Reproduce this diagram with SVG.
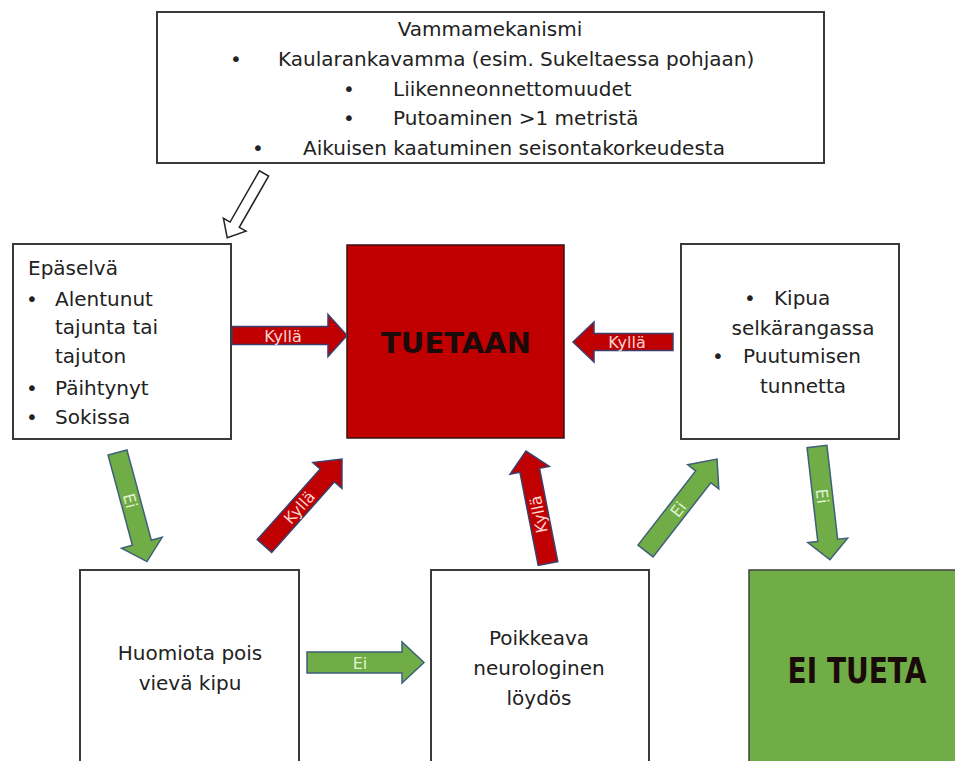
<svg xmlns="http://www.w3.org/2000/svg" width="955" height="761" viewBox="0 0 955 761">
<style>
.box{fill:#fff;stroke:#3a3a3a;stroke-width:2}
.t{font-family:"DejaVu Sans",sans-serif;font-size:20px;fill:#222}
.c{text-anchor:middle}
.red{fill:#C00000;stroke:#3b3f6e;stroke-width:1.5}
.grn{fill:#70AD47;stroke:#3f5f7a;stroke-width:1.5}
.hol{fill:#fff;stroke:#222;stroke-width:1.5}
.lk{font-family:"DejaVu Sans",sans-serif;font-size:16px;fill:#fbd3d3;text-anchor:middle}
.le{font-family:"DejaVu Sans",sans-serif;font-size:16px;fill:#e0f3d3;text-anchor:middle}
.big{font-family:"DejaVu Sans",sans-serif;font-weight:bold;fill:#1a0a0a;text-anchor:middle}
</style>
<rect width="955" height="761" fill="#fff"/>

<g id="vammamekanismi">
<rect class="box" x="157" y="12" width="667" height="151"/>
<text class="t c" x="490" y="36">Vammamekanismi</text>
<text class="t c" x="236" y="66">•</text><text class="t" x="278" y="66">Kaularankavamma (esim. Sukeltaessa pohjaan)</text>
<text class="t c" x="349" y="96">•</text><text class="t" x="393" y="96">Liikenneonnettomuudet</text>
<text class="t c" x="349" y="125">•</text><text class="t" x="393" y="125">Putoaminen &gt;1 metristä</text>
<text class="t c" x="258" y="155">•</text><text class="t" x="303" y="155">Aikuisen kaatuminen seisontakorkeudesta</text>
</g>

<g id="epaselva">
<rect class="box" x="13" y="244" width="218" height="195"/>
<text class="t" x="28" y="275">Epäselvä</text>
<text class="t c" x="32" y="306">•</text><text class="t" x="55" y="306">Alentunut</text>
<text class="t" x="55" y="334">tajunta tai</text>
<text class="t" x="55" y="363">tajuton</text>
<text class="t c" x="32" y="395">•</text><text class="t" x="55" y="395">Päihtynyt</text>
<text class="t c" x="32" y="424">•</text><text class="t" x="55" y="424">Sokissa</text>
</g>

<g id="tuetaan">
<rect x="347" y="245" width="217" height="193" fill="#C00000" stroke="#3a1010" stroke-width="1.5"/>
<text class="big" x="456" y="353" font-size="29">TUETAAN</text>
</g>

<g id="kipua">
<rect class="box" x="681" y="244" width="218" height="195"/>
<text class="t c" x="750" y="305">•</text><text class="t" x="774" y="305">Kipua</text>
<text class="t c" x="803" y="335">selkärangassa</text>
<text class="t c" x="718" y="363">•</text><text class="t" x="743" y="363">Puutumisen</text>
<text class="t c" x="803" y="393">tunnetta</text>
</g>

<g id="huomiota">
<rect class="box" x="80" y="570" width="219" height="200"/>
<text class="t c" x="190" y="660">Huomiota pois</text>
<text class="t c" x="190" y="690">vievä kipu</text>
</g>

<g id="poikkeava">
<rect class="box" x="431" y="570" width="218" height="200"/>
<text class="t c" x="539" y="645">Poikkeava</text>
<text class="t c" x="539" y="675">neurologinen</text>
<text class="t c" x="539" y="705">löydös</text>
</g>

<g id="ei-tueta">
<rect x="749" y="570" width="215" height="200" fill="#70AD47" stroke="#3f3f3f" stroke-width="1.5"/>
<text class="big" transform="translate(857,683) scale(0.8,1)" font-size="35">EI TUETA</text>
</g>

<g id="connectors">
<polygon class="hol" transform="translate(264,173.5) rotate(119.8)" points="0,-5.3 59,-5.3 59,-13 74,0 59,13 59,5.3 0,5.3"/>

<g transform="translate(232,335.5)">
<polygon class="red" points="0,-9 96,-9 96,-21 115,0 96,21 96,9 0,9"/>
<text class="lk" x="51" y="6">Kyllä</text>
</g>

<polygon class="red" transform="translate(673,342) rotate(180)" points="0,-8.5 79,-8.5 79,-20 100,0 79,20 79,8.5 0,8.5"/>
<text class="lk" x="627" y="348">Kyllä</text>

<g transform="translate(117.5,452.5) rotate(74.9)">
<polygon class="grn" points="0,-9.8 93.5,-9.8 93.5,-21 113,0 93.5,21 93.5,9.8 0,9.8"/>
<text class="le" x="50" y="6">Ei</text>
</g>

<g transform="translate(264.5,546) rotate(-48.3)">
<polygon class="red" points="0,-9.6 94.5,-9.6 94.5,-19.5 116.5,0 94.5,19.5 94.5,9.6 0,9.6"/>
<text class="lk" x="52" y="6">Kyllä</text>
</g>

<g transform="translate(548,563.5) rotate(-101.1)">
<polygon class="red" points="0,-10 95,-10 95,-20 114.6,0 95,20 95,10 0,10"/>
<text class="lk" x="50" y="6">Kyllä</text>
</g>

<g transform="translate(307,662.5)">
<polygon class="grn" points="0,-10.5 95,-10.5 95,-20.5 117,0 95,20.5 95,10.5 0,10.5"/>
<text class="le" x="53" y="6">Ei</text>
</g>

<g transform="translate(645.5,551) rotate(-52.1)">
<polygon class="grn" points="0,-9.6 94,-9.6 94,-19.7 116.5,0 94,19.7 94,9.6 0,9.6"/>
<text class="le" x="53" y="6">Ei</text>
</g>

<g transform="translate(817,446.5) rotate(83.5)">
<polygon class="grn" points="0,-10 94.5,-10 94.5,-20 114,0 94.5,20 94.5,10 0,10"/>
<text class="le" x="50" y="6">Ei</text>
</g>
</g>
</svg>
